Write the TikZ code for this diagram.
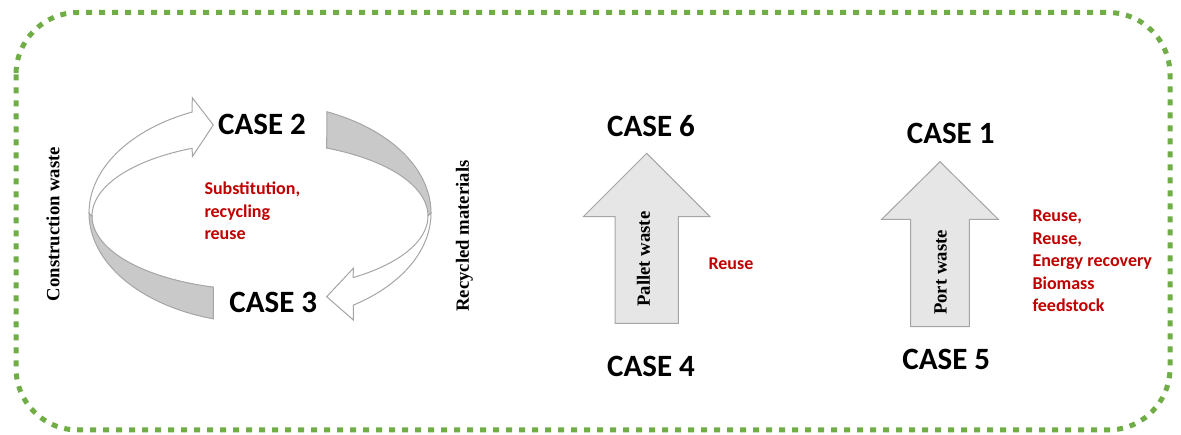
\documentclass[tikz,border=0pt]{standalone}
\usepackage{fontspec}
\newfontfamily\calibri{Carlito}
\newfontfamily\timesr{Liberation Serif}
\definecolor{dotgreen}{HTML}{70AD47}
\definecolor{bandgrey}{HTML}{C9C9C9}
\definecolor{arrowgrey}{HTML}{E7E6E6}
\definecolor{edgegrey}{HTML}{A5A5A5}
\definecolor{darkred}{HTML}{C00000}
\tikzset{
  casetext/.style={font=\calibri\bfseries\fontsize{31}{34}\selectfont, inner sep=0pt, text=black},
  redtext/.style={font=\calibri\bfseries\fontsize{18}{22.5}\selectfont, inner sep=0pt, text=darkred, align=left},
  vtext/.style={font=\timesr\bfseries\fontsize{18.7}{20}\selectfont, inner sep=0pt, rotate=90},
  whitearrow/.style={draw=edgegrey, fill=white, line width=1pt, line join=miter},
  greyband/.style={draw=edgegrey, fill=bandgrey, line width=1pt},
  uparrow/.style={draw=edgegrey, fill=arrowgrey, line width=1pt, line join=miter}
}
\begin{document}
\begin{tikzpicture}[x=1pt,y=-1pt]
\useasboundingbox (0,0) rectangle (1181,435);
% dotted frame
\draw[dotgreen, line width=5pt, dash pattern=on 6pt off 7pt, rounded corners=62pt] (16,12.5) rectangle (1170,430);

% circular arrows
\draw[greyband] plot[domain=180:105.8,samples=40] ({260+171*cos(\x)},{213+110*sin(\x)})
  -- plot[domain=106.1:180,samples=40] ({260+168*cos(\x)},{216+74*sin(\x)}) -- cycle;
\draw[greyband] plot[domain=293:360,samples=40] ({260+171*cos(\x)},{213+110*sin(\x)})
  -- plot[domain=360:293.4,samples=40] ({260+168*cos(\x)},{216+74*sin(\x)}) -- cycle;
\draw[whitearrow] plot[domain=180:246.6,samples=40] ({260+171*cos(\x)},{213+110*sin(\x)})
  -- (192.3,97.7) -- (213.3,125) -- (192.3,156.7)
  -- plot[domain=246.2:180,samples=40] ({260+168*cos(\x)},{216+74*sin(\x)}) -- cycle;
\draw[whitearrow] plot[domain=0:56.9,samples=40] ({260+171*cos(\x)},{213+110*sin(\x)})
  -- (353.3,320) -- (326.7,296.7) -- (353.3,268.3)
  -- plot[domain=56.3:0,samples=40] ({260+168*cos(\x)},{216+74*sin(\x)}) -- cycle;

% up arrows
\draw[uparrow] (646.7,153.3) -- (710,216.7) -- (678.3,216.7) -- (678.3,323.3) -- (615,323.3) -- (615,216.7) -- (583.3,216.7) -- cycle;
\draw[uparrow] (940,161.7) -- (998.3,219.3) -- (969.3,219.3) -- (969.3,326.7) -- (910.7,326.7) -- (910.7,219.3) -- (881.7,219.3) -- cycle;

% case labels
\node[casetext] (c2) at (262,124.5) {CASE 2};
\node[casetext] (c3) at (273.3,302.8) {CASE 3};
\node[casetext] (c6) at (651,126.3) {CASE 6};
\node[casetext] (c4) at (651,366.3) {CASE 4};
\node[casetext] (c1) at (950.7,133.7) {CASE 1};
\node[casetext] (c5) at (946.3,359.7) {CASE 5};

% vertical labels
\node[vtext] (cw) at (53,224) {Construction waste};
\node[vtext] (rm) at (464.5,236) {Recycled materials};
\node[vtext] (pw) at (643.5,259) {Pallet waste};
\node[vtext] (po) at (940.5,272.5) {Port waste};

% red texts (base anchor = baseline of the last line)
\node[redtext, anchor=base west] (sub) at (204.3,240) {Substitution,\\recycling\\reuse};
\node[redtext, anchor=base west] (ru) at (708.3,270) {Reuse};
\node[redtext, anchor=base west] (list) at (1032.3,312) {Reuse,\\Reuse,\\Energy recovery\\Biomass\\feedstock};
\end{tikzpicture}
\end{document}
